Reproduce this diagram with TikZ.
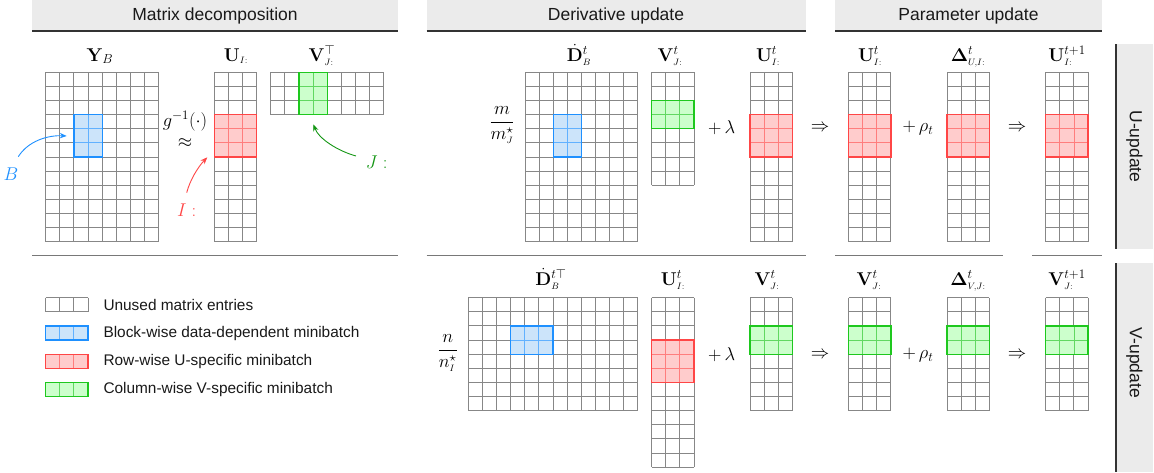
\RequirePackage{fix-cm}
\documentclass[tikz,border=0pt]{standalone}
\usepackage{amsmath}
\usepackage[no-math]{fontspec}
\newfontfamily\arialf{Liberation Sans}
\usetikzlibrary{arrows.meta}
\definecolor{gridgray}{RGB}{135,135,135}
\definecolor{hdrfill}{RGB}{235,235,235}
\definecolor{hdrline}{RGB}{51,51,51}
\definecolor{sepline}{RGB}{120,120,120}
\definecolor{bblue}{RGB}{30,144,255}
\definecolor{bbluef}{RGB}{204,228,250}
\definecolor{bred}{RGB}{255,70,70}
\definecolor{bredf}{RGB}{255,204,204}
\definecolor{bgreen}{RGB}{30,200,30}
\definecolor{bgreenf}{RGB}{204,255,204}
\definecolor{jgreen}{RGB}{20,150,20}
\def\cs{14.12}
\newcommand{\mgrid}[4]{%
  \pgfmathsetmacro{\gw}{#3*\cs}%
  \pgfmathsetmacro{\gh}{#4*\cs}%
  \foreach \i in {0,...,#3}{\draw[gridline] ({#1+\i*\cs},#2) -- ++(0,\gh);}%
  \foreach \j in {0,...,#4}{\draw[gridline] (#1,{#2+\j*\cs}) -- ++(\gw,0);}%
}
\newcommand{\mblock}[8]{%
  \pgfmathsetmacro{\bx}{#1+#3*\cs}%
  \pgfmathsetmacro{\by}{#2+#4*\cs}%
  \pgfmathsetmacro{\bw}{#5*\cs}%
  \pgfmathsetmacro{\bh}{#6*\cs}%
  \fill[#8] (\bx,\by) rectangle ++(\bw,\bh);%
  \pgfmathtruncatemacro{\nci}{#5-1}%
  \pgfmathtruncatemacro{\nri}{#6-1}%
  \ifnum\nci>0 \foreach \i in {1,...,\nci}{\draw[#7!70, line width=0.9pt] ({\bx+\i*\cs},\by) -- ++(0,\bh);}\fi
  \ifnum\nri>0 \foreach \j in {1,...,\nri}{\draw[#7!70, line width=0.9pt] (\bx,{\by+\j*\cs}) -- ++(\bw,0);}\fi
  \draw[#7, line width=1.3pt] (\bx,\by) rectangle ++(\bw,\bh);%
}
\begin{document}
\begin{tikzpicture}[x=1pt,y=-1pt,
  gridline/.style={draw=gridgray,line width=1pt},
  mlab/.style={font=\fontsize{18.5}{22}\selectfont, inner sep=0pt},
  hdr/.style={font=\arialf\fontsize{17.5}{20}\selectfont, text=black!90, inner sep=0pt},
  legtxt/.style={font=\arialf\fontsize{15.4}{18}\selectfont, text=black!90, inner sep=0pt, anchor=west},
  arr/.style={line width=0.9pt, -{Stealth[length=7pt,width=5.5pt]}}]
\useasboundingbox (0,0) rectangle (1154,472);
% headers
\fill[hdrfill] (32.3,0) rectangle (398,31);
\fill[hdrfill] (426.7,0) rectangle (806,31);
\fill[hdrfill] (835,0) rectangle (1102,31);
\draw[hdrline,line width=1.4pt] (32.3,31) -- (398,31);
\draw[hdrline,line width=1.4pt] (426.7,31) -- (806,31);
\draw[hdrline,line width=1.4pt] (835,31) -- (1102,31);
\node[hdr] (h1) at (215,15.5) {Matrix decomposition};
\node[hdr] (h2) at (616,15.5) {Derivative update};
\node[hdr] (h3) at (968.5,15.5) {Parameter update};
% separators
\draw[sepline,line width=1.4pt] (32.3,255.7) -- (398,255.7);
\draw[sepline,line width=1.4pt] (426.7,255.7) -- (806,255.7);
\draw[sepline,line width=1.4pt] (835,255.7) -- (1003,255.7);
\draw[sepline,line width=1.4pt] (1032,255.7) -- (1102,255.7);
% side boxes
\fill[hdrfill] (1116,44) rectangle (1153,249);
\fill[hdrfill] (1116,263.3) rectangle (1153,472);
\draw[hdrline,line width=1.4pt] (1116,44) -- (1116,249);
\draw[hdrline,line width=1.4pt] (1116,263.3) -- (1116,472);
\node[hdr,rotate=-90] (su) at (1134.5,146.5) {U-update};
\node[hdr,rotate=-90] (sv) at (1134.5,363) {V-update};
% ===== top row grids
\mgrid{45.7}{72.3}{8}{12}
\mgrid{214.3}{72.3}{3}{12}
\mgrid{270.7}{72.3}{8}{3}
\mgrid{525}{72.3}{8}{12}
\mgrid{651.7}{72.3}{3}{8}
\mgrid{750}{72.3}{3}{12}
\mgrid{848.5}{72.3}{3}{12}
\mgrid{947}{72.3}{3}{12}
\mgrid{1045.7}{72.3}{3}{12}
\mblock{45.7}{72.3}{2}{3}{2}{3}{bblue}{bbluef}
\mblock{214.3}{72.3}{0}{3}{3}{3}{bred}{bredf}
\mblock{270.7}{72.3}{2}{0}{2}{3}{bgreen}{bgreenf}
\mblock{525}{72.3}{2}{3}{2}{3}{bblue}{bbluef}
\mblock{651.7}{72.3}{0}{2}{3}{2}{bgreen}{bgreenf}
\mblock{750}{72.3}{0}{3}{3}{3}{bred}{bredf}
\mblock{848.5}{72.3}{0}{3}{3}{3}{bred}{bredf}
\mblock{947}{72.3}{0}{3}{3}{3}{bred}{bredf}
\mblock{1045.7}{72.3}{0}{3}{3}{3}{bred}{bredf}
% ===== bottom row grids
\mgrid{468.3}{297.7}{12}{8}
\mgrid{651.7}{297.7}{3}{12}
\mgrid{750}{297.7}{3}{8}
\mgrid{848.5}{297.7}{3}{8}
\mgrid{947}{297.7}{3}{8}
\mgrid{1045.7}{297.7}{3}{8}
\mblock{468.3}{297.7}{3}{2}{3}{2}{bblue}{bbluef}
\mblock{651.7}{297.7}{0}{3}{3}{3}{bred}{bredf}
\mblock{750}{297.7}{0}{2}{3}{2}{bgreen}{bgreenf}
\mblock{848.5}{297.7}{0}{2}{3}{2}{bgreen}{bgreenf}
\mblock{947}{297.7}{0}{2}{3}{2}{bgreen}{bgreenf}
\mblock{1045.7}{297.7}{0}{2}{3}{2}{bgreen}{bgreenf}
% ===== labels top
\node[mlab,anchor=base] (lY) at (100,61) {$\mathbf{Y}_{\scriptstyle B}$};
\node[mlab,anchor=base] (lU) at (236,61) {$\mathbf{U}_{\scriptscriptstyle I:}$};
\node[mlab,anchor=base] (lVT) at (322,61) {$\mathbf{V}^{\top}_{\scriptscriptstyle J:}$};
\node[mlab,anchor=base] (lD) at (579,61) {$\dot{\mathbf{D}}^{t}_{\scriptscriptstyle B}$};
\node[mlab,anchor=base] (lV1) at (670,61) {$\mathbf{V}^{t}_{\scriptscriptstyle J:}$};
\node[mlab,anchor=base] (lU1) at (768,61) {$\mathbf{U}^{t}_{\scriptscriptstyle I:}$};
\node[mlab,anchor=base] (lU2) at (870,61) {$\mathbf{U}^{t}_{\scriptscriptstyle I:}$};
\node[mlab,anchor=base] (lDU) at (968,61) {$\mathbf{\Delta}^{t}_{\scriptscriptstyle U,I:}$};
\node[mlab,anchor=base] (lU3) at (1067,61) {$\mathbf{U}^{t+1}_{\scriptscriptstyle I:}$};
% ===== labels bottom
\node[mlab,anchor=base] (lDT) at (551,285) {$\dot{\mathbf{D}}^{t\top}_{\scriptscriptstyle B}$};
\node[mlab,anchor=base] (lU4) at (673,285) {$\mathbf{U}^{t}_{\scriptscriptstyle I:}$};
\node[mlab,anchor=base] (lV4) at (767,285) {$\mathbf{V}^{t}_{\scriptscriptstyle J:}$};
\node[mlab,anchor=base] (lV5) at (869,285) {$\mathbf{V}^{t}_{\scriptscriptstyle J:}$};
\node[mlab,anchor=base] (lDV) at (968,285) {$\mathbf{\Delta}^{t}_{\scriptscriptstyle V,J:}$};
\node[mlab,anchor=base] (lV6) at (1067,285) {$\mathbf{V}^{t+1}_{\scriptscriptstyle J:}$};
% ===== operators
\node[mlab] (g) at (185,121) {$g^{-1}(\cdot)$};
\node[mlab] (ap) at (185,143) {$\approx$};
\node[mlab] (fm) at (502,125) {$\dfrac{m}{m^{\star}_{\scriptscriptstyle J}}$};
\node[mlab] (fn) at (447.7,353) {$\dfrac{n}{n^{\star}_{\scriptscriptstyle I}}$};
\node[mlab] (pl1) at (721.7,128) {$+\,\lambda$};
\node[mlab] (pl2) at (721.7,355) {$+\,\lambda$};
\node[mlab] (im1) at (820,128) {$\Rightarrow$};
\node[mlab] (im2) at (1017,128) {$\Rightarrow$};
\node[mlab] (im3) at (820,355) {$\Rightarrow$};
\node[mlab] (im4) at (1017,355) {$\Rightarrow$};
\node[mlab] (pr1) at (918,128) {$+\,\rho_t$};
\node[mlab] (pr2) at (918,355) {$+\,\rho_t$};
% ===== pointer labels and arrows
\node[mlab,text=bblue] (lB) at (11,174) {$B$};
\node[mlab,text=bred] (lI) at (186.7,210) {$I:$};
\node[mlab,text=jgreen] (lJ) at (376.7,162) {$J:$};
\coordinate (sB) at (18.3,156.7);
\coordinate (tB) at (66.7,136);
\coordinate (sI) at (186.7,192.7);
\coordinate (tI) at (207.3,157.3);
\coordinate (sJ) at (356,156);
\coordinate (tJ) at (313.3,124.3);
\draw[arr,bblue] (sB) .. controls (28,141) and (48,135) .. (tB);
\draw[arr,bred] (sI) .. controls (190,180) and (198,167) .. (tI);
\draw[arr,jgreen] (sJ) .. controls (338,151) and (319,139) .. (tJ);
% ===== legend
\mgrid{45.7}{297.7}{3}{1}
\mgrid{45.7}{326}{3}{1}
\mgrid{45.7}{354.3}{3}{1}
\mgrid{45.7}{382.5}{3}{1}
\mblock{45.7}{326}{0}{0}{3}{1}{bblue}{bbluef}
\mblock{45.7}{354.3}{0}{0}{3}{1}{bred}{bredf}
\mblock{45.7}{382.5}{0}{0}{3}{1}{bgreen}{bgreenf}
\node[legtxt] (t1) at (103.3,304.8) {Unused matrix entries};
\node[legtxt] (t2) at (103.3,333.1) {Block-wise data-dependent minibatch};
\node[legtxt] (t3) at (103.3,361.4) {Row-wise U-specific minibatch};
\node[legtxt] (t4) at (103.3,389.6) {Column-wise V-specific minibatch};
\end{tikzpicture}
\end{document}
